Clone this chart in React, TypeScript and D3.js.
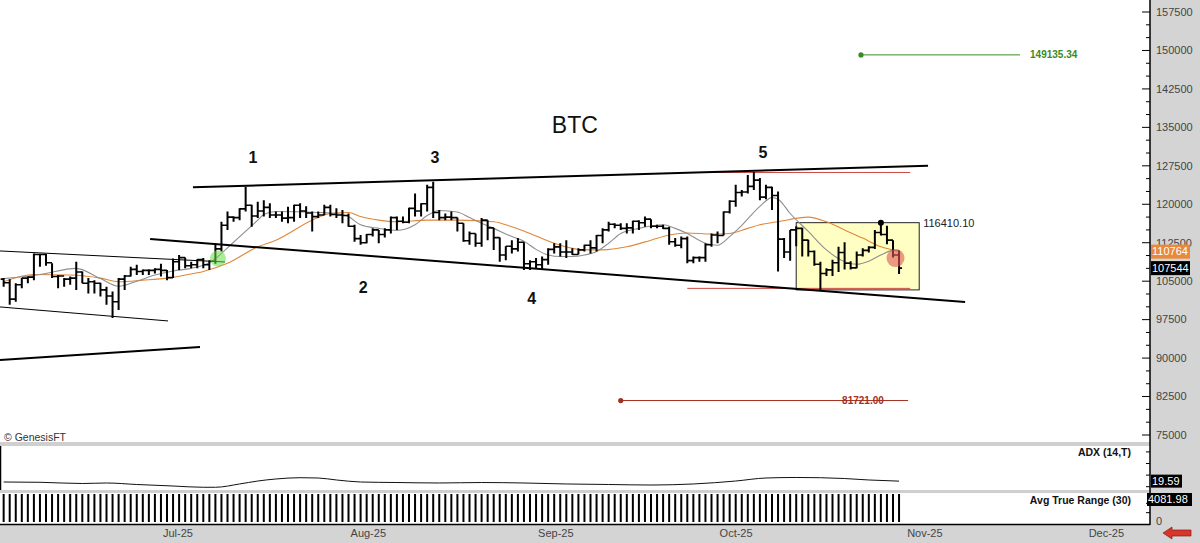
import React from "react";
import * as d3 from "d3";

const FONT = "'Liberation Sans', Arial, Helvetica, sans-serif";

// ---- daily OHLC (thousands of USD), first bar 2025-06-04 ----
const START = "2025-06-04";
const firstOpenK = 105.4;
const highsK = [
  105.6, 105.4, 104.6, 105.6, 105.9, 110.4, 110.3, 110.3, 108.5, 106.2, 105.6, 105.9, 108.8, 106.9, 105.6, 105.2, 104.7, 103.9, 103.0, 105.6, 106.2, 107.8, 108.2, 107.3, 107.3, 107.5, 108.4,
  107.2, 109.4, 110.1, 109.6, 108.8, 109.3, 109.5, 109.1, 112.4, 116.6, 118.6, 117.6, 119.2, 123.4, 119.9, 120.5, 120.8, 120.2, 118.6, 118.6, 119.5, 119.9, 120.2, 119.6, 118.6, 118.6, 119.9, 119.9, 119.2, 118.9, 118.2,
  116.0, 114.0, 114.2, 115.3, 115.0, 115.3, 117.6, 117.6, 117.6, 119.3, 122.1, 120.2, 123.8, 124.4, 118.9, 118.2, 118.6, 117.4, 116.3, 114.7, 114.3, 117.3, 116.9, 115.4, 113.5, 111.8, 113.0, 113.4, 112.6, 109.1, 109.5,
  109.8, 111.4, 112.4, 112.4, 113.0, 111.4, 111.4, 112.1, 113.0, 114.0, 115.3, 116.6, 116.3, 116.3, 116.3, 116.8, 116.9, 117.6, 117.1, 116.0, 116.0, 115.6, 113.4, 113.7, 113.7, 109.8, 109.8, 112.4, 114.3, 114.7,
  118.6, 120.8, 123.8, 122.8, 125.7, 126.3, 125.1, 123.8, 123.4, 122.5, 113.4, 115.0, 115.7, 115.4, 113.1, 111.0, 108.8, 107.5, 109.2, 111.7, 112.6, 108.9, 110.8, 111.4, 111.8, 115.0, 116.4101, 115.8, 113.0, 111.0,
];
const lowsK = [
  103.9, 100.4, 101.0, 103.6, 104.6, 105.2, 107.8, 108.0, 105.6, 103.6, 103.9, 104.3, 103.3, 104.6, 102.6, 102.6, 102.0, 100.4, 97.8, 99.4, 103.3, 105.9, 106.2, 106.2, 106.2, 106.5, 105.9,
  105.2, 105.6, 107.2, 107.5, 107.5, 107.5, 107.5, 107.2, 108.4, 110.8, 115.0, 116.6, 116.9, 118.6, 115.6, 117.3, 117.6, 117.3, 117.3, 116.6, 116.3, 116.6, 117.3, 117.3, 114.7, 117.3, 117.9, 117.6, 117.3, 116.3, 115.6,
  112.7, 112.1, 112.4, 113.7, 112.4, 113.5, 114.3, 115.0, 116.3, 116.3, 117.6, 117.6, 118.6, 117.3, 116.9, 116.9, 116.9, 114.7, 112.7, 112.1, 111.7, 111.7, 113.0, 111.1, 108.8, 109.1, 110.4, 110.8, 107.2, 107.2, 107.5,
  107.2, 108.2, 110.4, 109.8, 109.5, 110.1, 110.2, 110.8, 110.4, 110.8, 112.4, 114.7, 115.3, 115.0, 114.3, 114.3, 115.0, 115.6, 115.3, 115.3, 115.2, 112.1, 111.7, 111.4, 108.5, 108.5, 108.8, 108.8, 111.7, 112.4,
  113.9, 118.2, 119.5, 121.5, 122.1, 122.8, 120.8, 121.0, 118.9, 106.9, 109.5, 109.0, 111.8, 109.8, 109.8, 108.0, 103.3, 106.0, 106.0, 106.8, 107.3, 107.3, 107.5, 109.8, 110.6, 111.3, 113.9, 112.2, 109.6, 106.4,
];
const closesK = [
  104.7, 101.5, 104.3, 105.6, 105.8, 110.2, 110.2, 108.6, 105.9, 106.0, 105.4, 105.6, 106.8, 104.6, 104.9, 104.6, 103.3, 102.1, 101.0, 105.4, 106.0, 107.3, 106.9, 107.1, 107.1, 107.3, 107.1,
  105.7, 108.8, 109.6, 108.0, 108.2, 109.2, 108.2, 108.9, 111.3, 115.9, 117.5, 117.4, 119.1, 119.8, 117.7, 118.7, 119.4, 117.9, 117.9, 117.3, 117.4, 119.8, 118.7, 118.3, 117.6, 117.9, 119.4, 118.0, 117.9, 117.8, 115.7,
  113.3, 112.5, 114.1, 115.0, 114.1, 115.0, 117.4, 116.7, 116.5, 119.2, 118.7, 120.1, 123.3, 118.4, 117.4, 117.5, 117.4, 116.3, 112.9, 114.3, 112.4, 116.9, 115.4, 113.5, 110.1, 111.8, 111.3, 112.6, 108.4, 108.8, 108.2,
  109.2, 111.2, 111.7, 110.7, 110.7, 110.2, 111.1, 112.0, 111.5, 113.9, 115.0, 116.1, 115.9, 115.3, 115.4, 116.7, 116.4, 117.1, 115.7, 115.7, 115.3, 112.7, 112.0, 113.3, 109.0, 109.6, 109.6, 112.1, 114.0, 113.9,
  118.5, 120.6, 122.3, 122.4, 123.5, 124.7, 121.4, 123.3, 121.7, 113.2, 110.7, 115.0, 115.3, 113.0, 110.8, 108.3, 106.5, 107.2, 108.6, 110.6, 108.5, 107.6, 110.1, 111.0, 111.6, 114.5, 114.1, 113.0, 110.1, 107.544,
];

// ---- moving averages (thousands of USD) ----
const fastMA: [string, number][] = [
  ["2025-06-04", 105.5], ["2025-06-10", 106.3], ["2025-06-16", 107.5], ["2025-06-20", 105.5], ["2025-06-23", 104.0],
  ["2025-06-26", 105.0], ["2025-06-29", 106.2], ["2025-07-02", 107.0], ["2025-07-05", 107.5], ["2025-07-08", 108.6],
  ["2025-07-12", 112.6], ["2025-07-16", 116.9], ["2025-07-17", 118.0], ["2025-07-19", 118.6], ["2025-07-26", 118.4],
  ["2025-07-29", 118.2], ["2025-07-31", 117.6], ["2025-08-02", 116.0], ["2025-08-05", 115.3], ["2025-08-08", 114.9],
  ["2025-08-11", 116.0], ["2025-08-13", 117.8], ["2025-08-15", 118.8], ["2025-08-18", 118.5], ["2025-08-20", 117.4],
  ["2025-08-22", 116.3], ["2025-08-24", 115.3], ["2025-08-27", 113.7], ["2025-08-29", 112.8], ["2025-08-31", 111.2],
  ["2025-09-02", 110.1], ["2025-09-04", 109.8], ["2025-09-06", 109.8], ["2025-09-08", 110.1], ["2025-09-10", 110.8],
  ["2025-09-12", 112.4], ["2025-09-14", 114.3], ["2025-09-17", 115.3], ["2025-09-21", 116.0], ["2025-09-23", 115.3],
  ["2025-09-25", 114.3], ["2025-09-28", 112.4], ["2025-09-30", 112.0], ["2025-10-02", 113.7], ["2025-10-04", 115.9],
  ["2025-10-07", 119.6], ["2025-10-09", 121.3], ["2025-10-10", 121.0], ["2025-10-12", 118.2], ["2025-10-15", 114.7],
  ["2025-10-18", 111.1], ["2025-10-21", 108.8], ["2025-10-23", 108.3], ["2025-10-25", 108.9], ["2025-10-27", 110.1],
  ["2025-10-29", 111.0], ["2025-10-30", 111.0],
];
const slowMA: [string, number][] = [
  ["2025-06-04", 104.9], ["2025-06-09", 106.3], ["2025-06-15", 106.2], ["2025-06-20", 105.6], ["2025-06-23", 104.9],
  ["2025-06-27", 105.2], ["2025-07-01", 105.6], ["2025-07-04", 106.2], ["2025-07-07", 106.9], ["2025-07-11", 108.5],
  ["2025-07-16", 111.7], ["2025-07-19", 113.0], ["2025-07-25", 116.9], ["2025-07-28", 118.2], ["2025-07-31", 118.4],
  ["2025-08-02", 117.6], ["2025-08-05", 116.9], ["2025-08-08", 116.6], ["2025-08-13", 116.9], ["2025-08-18", 116.9],
  ["2025-08-24", 116.6], ["2025-08-27", 115.6], ["2025-08-30", 114.3], ["2025-09-03", 112.4], ["2025-09-06", 111.4],
  ["2025-09-08", 111.1], ["2025-09-11", 111.1], ["2025-09-15", 111.7], ["2025-09-19", 113.0], ["2025-09-22", 114.0],
  ["2025-09-25", 114.4], ["2025-09-29", 114.2], ["2025-10-02", 114.3], ["2025-10-05", 115.3], ["2025-10-07", 116.0],
  ["2025-10-10", 116.6], ["2025-10-15", 117.5], ["2025-10-18", 116.6], ["2025-10-21", 115.0], ["2025-10-24", 113.4],
  ["2025-10-27", 111.7], ["2025-10-29", 111.1], ["2025-10-30", 110.764],
];

// ---- ADX (14) ----
const adxSeries: [string, number][] = [
  ["2025-06-04", 18.1], ["2025-06-10", 17.6], ["2025-06-17", 15.5], ["2025-06-21", 16.4], ["2025-06-26", 13.8],
  ["2025-07-02", 11.2], ["2025-07-07", 9.0], ["2025-07-09", 9.0], ["2025-07-13", 14.7], ["2025-07-16", 19.8],
  ["2025-07-19", 23.3], ["2025-07-23", 25.5], ["2025-07-26", 25.0], ["2025-07-29", 21.6], ["2025-08-02", 18.1],
  ["2025-08-08", 17.2], ["2025-08-15", 16.4], ["2025-08-22", 17.2], ["2025-08-29", 16.4], ["2025-09-05", 14.7],
  ["2025-09-12", 13.8], ["2025-09-19", 12.9], ["2025-09-26", 14.7], ["2025-10-03", 19.8], ["2025-10-08", 25.0],
  ["2025-10-13", 25.9], ["2025-10-17", 25.5], ["2025-10-21", 24.1], ["2025-10-25", 21.6], ["2025-10-30", 19.59],
];

// ---- labels / annotations ----
const monthTicks = ["2025-07-01", "2025-08-01", "2025-09-01", "2025-10-01", "2025-11-01", "2025-12-01"];
const priceTicks = [75000, 82500, 90000, 97500, 105000, 112500, 120000, 127500, 135000, 142500, 150000, 157500];
const lastSlowMA = 110764;
const lastClose = 107544;
const lastADX = "19.59";
const lastATR = "4081.98";

const trendLines = [
  { from: ["2025-07-05T07:00Z", 123317], to: ["2025-11-03T19:00Z", 127528], w: 2 },
  { from: ["2025-06-28T05:00Z", 113235], to: ["2025-11-09T22:00Z", 100950], w: 2 },
  { from: ["2025-06-03T09:36Z", 110895], to: ["2025-07-10T14:00Z", 108750], w: 1 },
  { from: ["2025-06-03T09:36Z", 99975], to: ["2025-07-01T04:00Z", 97245], w: 1 },
  { from: ["2025-06-03T09:36Z", 89640], to: ["2025-07-06T11:00Z", 92175], w: 2 },
];
const redLevels = [126200, 103600];
const redLevelSpan = ["2025-09-25", "2025-10-31T20:00Z"];
const box = { from: "2025-10-13", to: "2025-11-02T08:00Z", top: 116410.1, bottom: 103300 };
const waveLabels: [string, string, number][] = [
  ["1", "2025-07-15T05:00Z", 129225], ["3", "2025-08-14T07:00Z", 129225], ["5", "2025-10-07T12:00Z", 130200],
  ["2", "2025-08-02T10:00Z", 103875], ["4", "2025-08-30T07:00Z", 101730],
];
const titleAt: [string, number] = ["2025-09-06T10:00Z", 135465];
const upTarget = { from: "2025-10-23T17:00Z", to: "2025-11-19T00:00Z", price: 149135.34, label: "149135.34" };
const downTarget = { from: "2025-09-14T00:00Z", to: "2025-10-31T12:00Z", price: 81721.0, label: "81721.00", labelAt: "2025-10-20T14:00Z" };
const greenMark: [string, number] = ["2025-07-09T10:00Z", 109400];
const redMark: [string, number] = ["2025-10-29T10:00Z", 109500];

const D = (s: string) => new Date(s.length <= 10 ? s + "T00:00:00Z" : s);

export default function App() {
  const plotRight = 1150;
  const x = d3.scaleUtc().domain([D("2025-07-01"), D("2025-12-01")]).range([167, 1092.65]);
  const y = d3.scaleLinear().domain([75000, 157500]).range([435, 12]);
  const yAdx = d3.scaleLinear().domain([0, 80]).range([492.5, 446.1]);
  const atrTop = 494, atrBottom = 522;
  const yAtr = d3.scaleLinear().domain([0, 1500]).range([atrBottom, atrTop]).clamp(true);

  const start = D(START);
  const bars = closesK.map((c, i) => ({
    date: d3.utcDay.offset(start, i),
    open: (i === 0 ? firstOpenK : closesK[i - 1]) * 1000,
    high: highsK[i] * 1000,
    low: lowsK[i] * 1000,
    close: c * 1000,
  }));

  // ATR(30) from true ranges
  const tr = bars.map((b, i) => {
    const pc = i === 0 ? b.open : bars[i - 1].close;
    return Math.max(b.high - b.low, Math.abs(b.high - pc), Math.abs(b.low - pc));
  });
  const atr = tr.map((_, i) => d3.mean(tr.slice(Math.max(0, i - 29), i + 1)) as number);

  const maLine = d3
    .line<[string, number]>()
    .x((d) => x(D(d[0])))
    .y((d) => y(d[1] * 1000))
    .curve(d3.curveMonotoneX);
  const adxLine = d3
    .line<[string, number]>()
    .x((d) => x(D(d[0])))
    .y((d) => yAdx(d[1]))
    .curve(d3.curveMonotoneX);

  const barVert = bars.map((b) => `M${x(b.date)},${y(b.high)}V${y(b.low)}`).join("");
  const barTicks = bars
    .map((b) => {
      const cx = x(b.date);
      return `M${cx - 3},${y(b.open)}H${cx}M${cx},${y(b.close)}H${cx + 3}`;
    })
    .join("");

  const minorTicks = d3.range(75000, 157501, 2500).filter((v) => v % 7500 !== 0);
  const fmtMonth = d3.utcFormat("%b-%y");
  const green = "#3b8a26";
  const darkRed = "#a3301f";

  return (
    <div style={{ width: 1200, height: 543 }}>
      <style>{"html,body{margin:0;padding:0;background:#fff;overflow:hidden}"}</style>
      <svg width={1200} height={543} style={{ display: "block", fontFamily: FONT }}>
        <rect x={0} y={0} width={1200} height={543} fill="#ffffff" />

        {/* yellow consolidation box */}
        <rect
          x={x(D(box.from))}
          y={y(box.top)}
          width={x(D(box.to)) - x(D(box.from))}
          height={y(box.bottom) - y(box.top)}
          fill="#ffffc4"
          stroke="#222"
          strokeWidth={1}
        />
        <text x={x(D(box.to)) + 4} y={y(box.top)} dy="0.35em" fontSize={11} fill="#222">
          {box.top.toFixed(2)}
        </text>

        {/* red horizontal levels */}
        {redLevels.map((p) => (
          <line
            key={p}
            x1={x(D(redLevelSpan[0]))}
            x2={x(D(redLevelSpan[1]))}
            y1={y(p)}
            y2={y(p)}
            stroke="#cc4a44"
            strokeWidth={1}
          />
        ))}

        {/* moving averages */}
        <path d={maLine(slowMA) || ""} fill="none" stroke="#e0873a" strokeWidth={1.1} />
        <path d={maLine(fastMA) || ""} fill="none" stroke="#8f8f8f" strokeWidth={1.1} />

        {/* trend lines */}
        {trendLines.map((t, i) => (
          <line
            key={i}
            x1={x(D(t.from[0] as string))}
            y1={y(t.from[1] as number)}
            x2={x(D(t.to[0] as string))}
            y2={y(t.to[1] as number)}
            stroke="#000"
            strokeWidth={t.w}
          />
        ))}

        {/* OHLC bars */}
        <path d={barVert} stroke="#000" strokeWidth={2} fill="none" />
        <path d={barTicks} stroke="#000" strokeWidth={1.6} fill="none" />

        {/* markers */}
        <circle cx={x(D(greenMark[0]))} cy={y(greenMark[1])} r={8} fill="#66dd44" opacity={0.55} />
        <circle cx={x(D(redMark[0]))} cy={y(redMark[1])} r={9} fill="#e05555" opacity={0.6} />
        <circle cx={x(D("2025-10-27"))} cy={y(box.top)} r={3} fill="#000" />

        {/* targets */}
        <line x1={x(D(upTarget.from))} x2={x(D(upTarget.to))} y1={y(upTarget.price)} y2={y(upTarget.price)} stroke={green} strokeWidth={1} />
        <circle cx={x(D(upTarget.from))} cy={y(upTarget.price)} r={2.6} fill={green} />
        <text x={x(D(upTarget.to)) + 10} y={y(upTarget.price)} dy="0.35em" fontSize={10} fontWeight="bold" fill={green}>
          {upTarget.label}
        </text>
        <line x1={x(D(downTarget.from))} x2={x(D(downTarget.to))} y1={y(downTarget.price)} y2={y(downTarget.price)} stroke={darkRed} strokeWidth={1} />
        <circle cx={x(D(downTarget.from))} cy={y(downTarget.price)} r={2.6} fill={darkRed} />
        <text x={x(D(downTarget.labelAt))} y={y(downTarget.price)} dy="0.35em" fontSize={10} fontWeight="bold" fill={darkRed}>
          {downTarget.label}
        </text>

        {/* title and wave counts */}
        <text x={x(D(titleAt[0]))} y={y(titleAt[1])} dy="0.35em" textAnchor="middle" fontSize={23} fill="#111">
          BTC
        </text>
        {waveLabels.map(([t, d, p]) => (
          <text key={t} x={x(D(d))} y={y(p)} dy="0.35em" textAnchor="middle" fontSize={16} fontWeight="bold" fill="#111">
            {t}
          </text>
        ))}
        <text x={4} y={437} dy="0.35em" fontSize={10.5} fill="#333">
          © GenesisFT
        </text>

        {/* panel separators */}
        <rect x={0} y={442} width={plotRight} height={4} fill="#cfcfcf" />
        <rect x={0} y={490} width={plotRight} height={3} fill="#cfcfcf" />
        <line x1={0.5} x2={0.5} y1={446} y2={490} stroke="#000" strokeWidth={1.5} />

        {/* ADX panel */}
        <path d={adxLine(adxSeries) || ""} fill="none" stroke="#111" strokeWidth={1} />
        <text x={1131} y={452} dy="0.35em" textAnchor="end" fontSize={10.5} fontWeight="bold" fill="#111">
          ADX (14,T)
        </text>

        {/* ATR panel */}
        {bars.map((b, i) => (
          <line key={i} x1={x(b.date)} x2={x(b.date)} y1={atrBottom} y2={yAtr(atr[i])} stroke="#000" strokeWidth={2} />
        ))}
        <text x={1131} y={500} dy="0.35em" textAnchor="end" fontSize={10.5} fontWeight="bold" fill="#111">
          Avg True Range (30)
        </text>

        {/* bottom date strip and right axis */}
        <rect x={0} y={525} width={1200} height={18} fill="#d4d4d4" />
        <rect x={plotRight} y={0} width={1200 - plotRight} height={543} fill="#d4d4d4" />
        <line x1={0} x2={plotRight} y1={524.5} y2={524.5} stroke="#000" strokeWidth={1.5} />
        <line x1={plotRight} x2={plotRight} y1={0} y2={525} stroke="#000" strokeWidth={1.5} />
        {monthTicks.map((m) => (
          <text key={m} x={x(D(m)) - 4} y={533} dy="0.35em" fontSize={11} fill="#444">
            {fmtMonth(D(m))}
          </text>
        ))}

        {/* price axis ticks */}
        {priceTicks.map((v) => (
          <g key={v}>
            <line x1={plotRight - 8} x2={plotRight} y1={y(v)} y2={y(v)} stroke="#000" strokeWidth={1} />
            <text x={plotRight + 6} y={y(v)} dy="0.35em" fontSize={11} fill="#444">
              {v}
            </text>
          </g>
        ))}
        {minorTicks.map((v) => (
          <line key={v} x1={plotRight - 4} x2={plotRight} y1={y(v)} y2={y(v)} stroke="#000" strokeWidth={1} />
        ))}
        {[10, 30, 50, 70].map((v) => (
          <line key={v} x1={plotRight - 4} x2={plotRight} y1={yAdx(v)} y2={yAdx(v)} stroke="#000" strokeWidth={1} />
        ))}
        {[500, 1000].map((v) => (
          <line key={v} x1={plotRight - 4} x2={plotRight} y1={yAtr(v)} y2={yAtr(v)} stroke="#000" strokeWidth={1} />
        ))}
        <text x={plotRight + 6} y={yAtr(0) - 1} dy="0.35em" fontSize={11} fill="#444">
          0
        </text>

        {/* last-value boxes */}
        <rect x={plotRight + 1} y={y(lastSlowMA) - 7} width={39} height={14} fill="#e8893c" />
        <text x={plotRight + 2} y={y(lastSlowMA)} dy="0.35em" fontSize={11} fill="#fff">
          {lastSlowMA}
        </text>
        <rect x={plotRight + 1} y={y(lastClose) - 7} width={39} height={14} fill="#000" />
        <text x={plotRight + 2} y={y(lastClose)} dy="0.35em" fontSize={11} fill="#fff">
          {lastClose}
        </text>
        <rect x={plotRight + 1} y={yAdx(19.59) - 6.5} width={31} height={13} fill="#000" />
        <text x={plotRight + 2} y={yAdx(19.59)} dy="0.35em" fontSize={11} fill="#fff">
          {lastADX}
        </text>
        <rect x={plotRight - 3} y={493} width={45} height={13} fill="#000" />
        <text x={plotRight - 2} y={499.5} dy="0.35em" fontSize={11} fill="#fff">
          {lastATR}
        </text>

        {/* red arrow */}
        <path
          d="M1163,533 L1172,527 L1172,530 L1191,530 L1191,536 L1172,536 L1172,539 Z"
          fill="#d8352b"
          stroke="#8a1a12"
          strokeWidth={0.7}
        />
      </svg>
    </div>
  );
}
